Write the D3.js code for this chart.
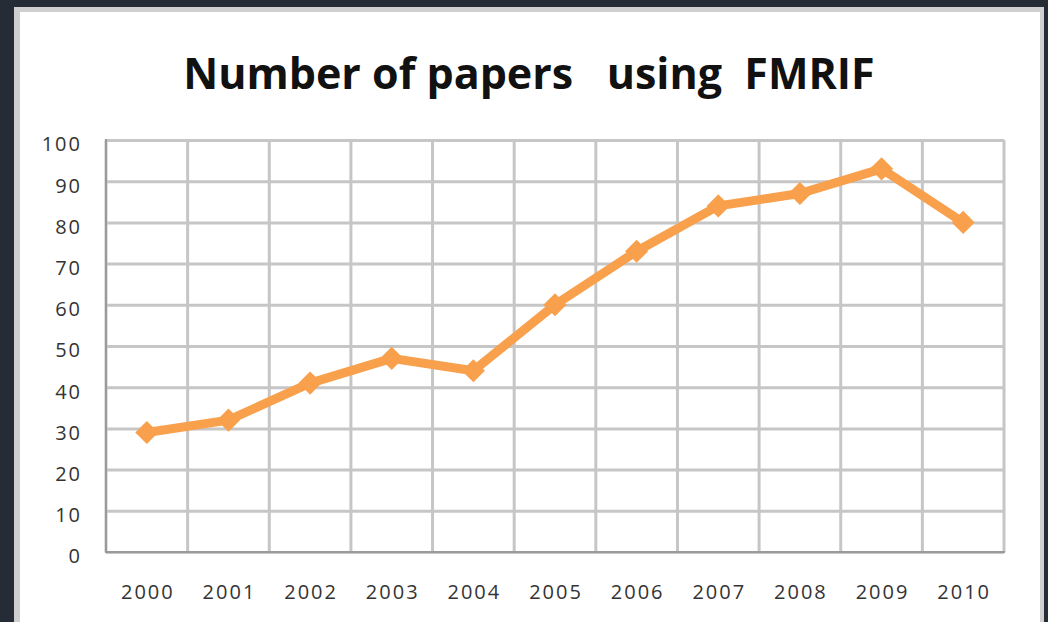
<!DOCTYPE html>
<html>
<head>
<meta charset="utf-8">
<script src="https://cdn.jsdelivr.net/npm/d3@7"></script>
<style>
  html, body { margin: 0; padding: 0; background: #252c36; }
  svg { display: block; }
</style>
</head>
<body>
<svg id="chart" width="1048" height="622"></svg>
<script>
// Papers per year
const years = ["2000","2001","2002","2003","2004","2005","2006","2007","2008","2009","2010"];
const papers = [29, 32, 41, 47, 44, 60, 73, 84, 87, 93, 80];
const yTicks = [0, 10, 20, 30, 40, 50, 60, 70, 80, 90, 100];
const title = "Number of papers   using  FMRIF";

const svg = d3.select("#chart");
const W = 1048, H = 622;

// card background with light frame
svg.append("rect").attr("x", 14).attr("y", 7).attr("width", 1030).attr("height", H - 7).attr("fill", "#cfcfcf");
svg.append("rect").attr("x", 20).attr("y", 12).attr("width", 1020).attr("height", H - 12).attr("fill", "#ffffff");

const plot = { left: 106, right: 1004, top: 140, bottom: 552 };

const x = d3.scaleBand().domain(years).range([plot.left, plot.right]);
const y = d3.scaleLinear().domain([0, 100]).range([plot.bottom, plot.top]);

const g = svg.append("g");

// horizontal gridlines
g.append("g").attr("transform", `translate(${plot.left},0)`)
  .call(d3.axisLeft(y).tickValues(yTicks).tickSize(-(plot.right - plot.left)).tickFormat(""))
  .call(a => a.select(".domain").remove())
  .call(a => a.selectAll("line").attr("stroke", "#c6c6c6").attr("stroke-width", 3));

// vertical gridlines at category boundaries
const bounds = years.map(d => x(d)).concat([plot.right]);
g.append("g").selectAll("line").data(bounds).join("line")
  .attr("x1", d => d).attr("x2", d => d)
  .attr("y1", plot.top).attr("y2", plot.bottom)
  .attr("stroke", "#c6c6c6").attr("stroke-width", 3);

// axis lines
g.append("line").attr("x1", plot.left).attr("x2", plot.left).attr("y1", plot.top - 1).attr("y2", plot.bottom + 1)
  .attr("stroke", "#9a9a9a").attr("stroke-width", 2);
g.append("line").attr("x1", plot.left).attr("x2", plot.right + 1).attr("y1", plot.bottom).attr("y2", plot.bottom)
  .attr("stroke", "#9a9a9a").attr("stroke-width", 2);

const labelFont = "'Open Sans', sans-serif";

// y tick labels
const yAxis = svg.append("g").attr("transform", `translate(${plot.left - 24},4)`)
  .call(d3.axisLeft(y).tickValues(yTicks).tickSize(0).tickPadding(0));
yAxis.select(".domain").remove();
yAxis.selectAll("text")
  .attr("font-family", labelFont).attr("font-size", 20)
  .attr("letter-spacing", 2)
  .attr("fill", "#333").attr("dy", "0.34em");

// x tick labels
const xAxis = svg.append("g").attr("transform", `translate(1,${plot.bottom + 33})`)
  .call(d3.axisBottom(x).tickSize(0).tickPadding(0));
xAxis.select(".domain").remove();
xAxis.selectAll("text")
  .attr("font-family", labelFont).attr("font-size", 20)
  .attr("letter-spacing", 2)
  .attr("fill", "#333").attr("dy", "0.7em");

// series line
const pts = years.map((d, i) => [x(d) + x.bandwidth() / 2, y(papers[i])]);
g.append("path").datum(pts)
  .attr("d", d3.line())
  .attr("fill", "none").attr("stroke", "#f8a04c").attr("stroke-width", 9)
  .attr("stroke-linejoin", "round");

// diamond markers
const diamond = d3.symbol().type(d3.symbolDiamond2).size(340);
g.append("g").selectAll("path").data(pts).join("path")
  .attr("transform", d => `translate(${d[0]},${d[1]})`)
  .attr("d", diamond)
  .attr("fill", "#f8a04c");

// title
svg.append("text")
  .attr("x", 529).attr("y", 89)
  .attr("text-anchor", "middle")
  .attr("font-family", "'Open Sans', sans-serif").attr("font-weight", "bold")
  .attr("font-size", 43).attr("fill", "#111")
  .style("white-space", "pre")
  .text(title);
</script>
</body>
</html>
